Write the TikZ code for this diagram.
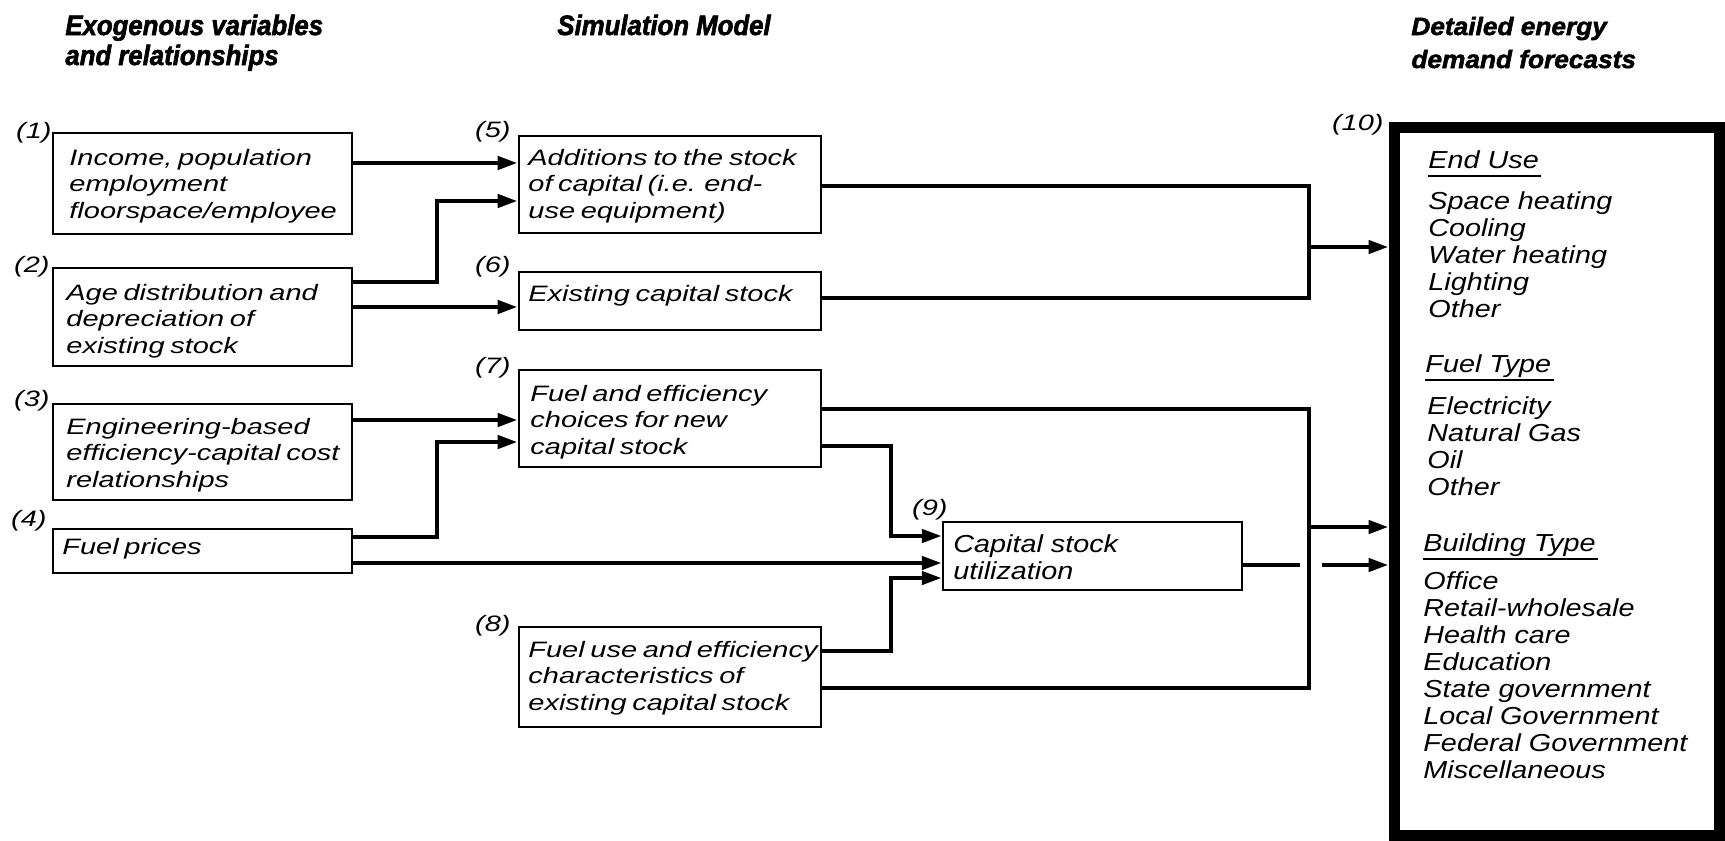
\documentclass[tikz,border=0pt]{standalone}
\usepackage{fontspec}
\setmainfont{Liberation Sans}
\newfontfamily\bxfont{Liberation Sans}[FakeStretch=1.3,WordSpace=0.7]
\newfontfamily\lsfont{Liberation Sans}[FakeStretch=1.17]
\newfontfamily\hdfont{Liberation Sans}[FakeStretch=0.92,FakeBold=2]
\newfontfamily\hdfontb{Liberation Sans}[FakeStretch=1.05,FakeBold=2]
\usetikzlibrary{arrows.meta,fit}
\begin{document}
\begin{tikzpicture}[x=0.5pt,y=-0.5pt,
  bx/.style={draw, line width=1.4pt, inner sep=0pt},
  txt/.style={inner sep=0pt, anchor=base west, align=left,
    font=\bxfont\itshape\fontsize{11.15}{13.25}\selectfont},
  lst/.style={inner sep=0pt, anchor=base west, align=left,
    font=\lsfont\itshape\fontsize{12.3}{13.5}\selectfont},
  lbl/.style={inner sep=0pt, anchor=base east,
    font=\bxfont\itshape\fontsize{11.15}{13.25}\selectfont},
  hd/.style={inner sep=0pt, anchor=base west, align=left,
    font=\hdfont\bfseries\itshape\fontsize{14}{15}\selectfont},
  hdb/.style={inner sep=0pt, anchor=base west, align=left,
    font=\hdfontb\bfseries\itshape\fontsize{12.5}{16.5}\selectfont},
  conn/.style={line width=2.2pt},
  arr/.style={conn, -{Triangle[length=10pt,width=6.5pt]}},
  uline/.style={line width=1pt},
]
\useasboundingbox (0,0) rectangle (1725,841);

% headings (anchored at the baseline of the last line)
\node[hd] (hexo) at (65,65) {Exogenous variables\\and relationships};
\node[hd] (hsim) at (557,35) {Simulation Model};
\node[hdb] (hdet) at (1411,68) {Detailed energy\\demand forecasts};

% boxes
\node[bx, fit={(53,133) (352,234)}] (b1) {};
\node[bx, fit={(53,268) (352,366)}] (b2) {};
\node[bx, fit={(53,404) (352,500)}] (b3) {};
\node[bx, fit={(53,529) (352,573)}] (b4) {};
\node[bx, fit={(519,136) (821,233)}] (b5) {};
\node[bx, fit={(519,272) (821,330)}] (b6) {};
\node[bx, fit={(519,370) (821,467)}] (b7) {};
\node[bx, fit={(519,627) (821,727)}] (b8) {};
\node[bx, line width=1.2pt, fit={(943,522) (1242,590)}] (b9) {};
\node[draw, line width=5.5pt, inner sep=0pt, fit={(1394,127) (1719.5,835.5)}] (b10) {};

% box texts (anchored at the baseline of the last line)
\node[txt] (t1) at (69,218) {Income, population\\employment\\floorspace/employee};
\node[txt] (t2) at (66,353) {Age distribution and\\depreciation of\\existing stock};
\node[txt] (t3) at (66,487) {Engineering-based\\efficiency-capital cost\\relationships};
\node[txt] (t4) at (62,554) {Fuel prices};
\node[txt] (t5) at (528,218) {Additions to the stock\\of capital (i.e. end-\\use equipment)};
\node[txt] (t6) at (528,301) {Existing capital stock};
\node[txt] (t7) at (530,454) {Fuel and efficiency\\choices for new\\capital stock};
\node[txt] (t8) at (528,710) {Fuel use and efficiency\\characteristics of\\existing capital stock};
\node[lst] (t9) at (953,579) {Capital stock\\utilization};

% number labels
\node[lbl] (n1) at (52,138) {(1)};
\node[lbl] (n2) at (50,272) {(2)};
\node[lbl] (n3) at (50,406) {(3)};
\node[lbl] (n4) at (47,526) {(4)};
\node[lbl] (n5) at (511,137) {(5)};
\node[lbl] (n6) at (511,272) {(6)};
\node[lbl] (n7) at (511,373) {(7)};
\node[lbl] (n8) at (511,631) {(8)};
\node[lbl] (n9) at (948,515) {(9)};
\node[lbl] (n10) at (1384,130) {(10)};

% box 10 contents
\node[lst] (h1) at (1428,168) {End Use};
\node[lst] (h2) at (1425,372) {Fuel Type};
\node[lst] (h3) at (1423,551) {Building Type};
\foreach \hh in {h1,h2,h3}
  \draw[uline] ([yshift=-4pt]\hh.base west) -- ([yshift=-4pt,xshift=1pt]\hh.base east);
\foreach \yy/\tx [count=\i] in {209/Space heating,236/Cooling,263/Water heating,290/Lighting,317/Other}
  \node[lst] (ea\i) at (1428,\yy) {\tx};
\foreach \yy/\tx [count=\i] in {414/Electricity,441/Natural Gas,468/Oil,495/Other}
  \node[lst] (eb\i) at (1427,\yy) {\tx};
\foreach \yy/\tx [count=\i] in {589/Office,616/Retail-wholesale,643/Health care,670/Education,697/State government,724/Local Government,751/Federal Government,778/Miscellaneous}
  \node[lst] (ec\i) at (1423,\yy) {\tx};

% connectors
\draw[arr] (b1.east |- 0,163) -- (b5.west |- 0,163);
\draw[arr] (b2.east |- 0,282) -| (437,201) -- (b5.west |- 0,201);
\draw[arr] (b2.east |- 0,307) -- (b6.west |- 0,307);
\draw[arr] (b3.east |- 0,420) -- (b7.west |- 0,420);
\draw[arr] (b4.east |- 0,537) -| (437,442) -- (b7.west |- 0,442);
\draw[arr] (b4.east |- 0,563) -- (b9.west |- 0,563);

\draw[conn] (b5.east |- 0,186) -| (1309,298) -- (b6.east |- 0,298);
\draw[conn] (b7.east |- 0,409) -| (1309,688) -- (b8.east |- 0,688);
\coordinate (j1) at (1309,247);
\coordinate (j2) at (1309,527);
\draw[arr] (j1) -- (b10.west |- j1);
\draw[arr] (j2) -- (b10.west |- j2);

\draw[arr] (b7.east |- 0,446) -| (891,536) -- (b9.west |- 0,536);
\draw[arr] (b8.east |- 0,651) -| (891,578) -- (b9.west |- 0,578);

\coordinate (gl) at (1300,565);
\coordinate (gr) at (1322,565);
\draw[conn] (b9.east |- gl) -- (gl);
\draw[arr] (gr) -- (b10.west |- gr);
\end{tikzpicture}
\end{document}
